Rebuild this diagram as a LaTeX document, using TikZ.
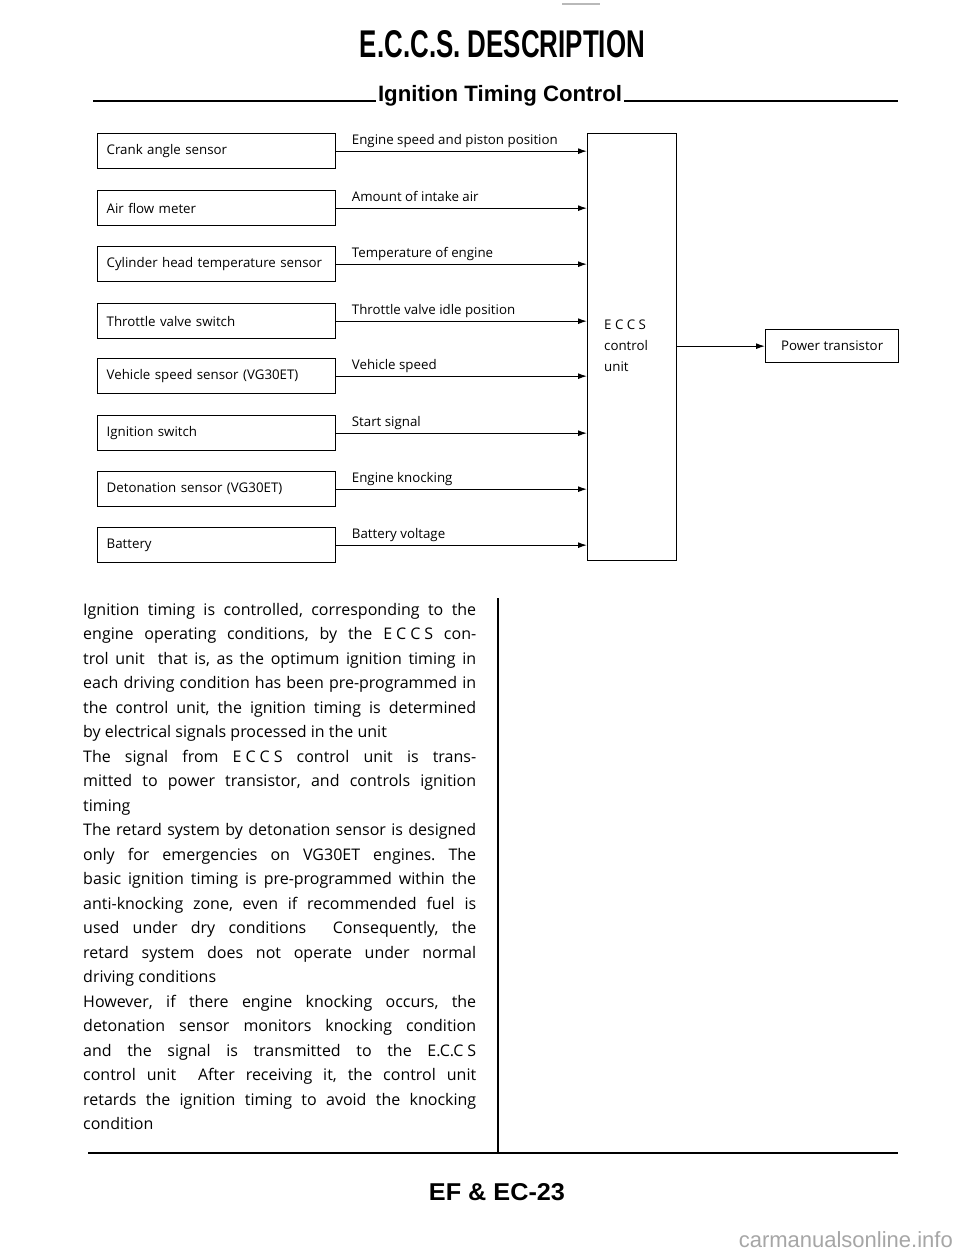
\documentclass[tikz,border=0pt]{standalone}
\usepackage{fontspec}
\setmainfont{Open Sans}
\newfontfamily\headfont{Liberation Sans}
\usetikzlibrary{arrows.meta}
\frenchspacing
\newcommand\J[1]{\makebox[393pt][s]{#1}}
\newcommand\ECCSsp{E\kern4pt C\kern4pt C\kern4pt S}
\begin{document}
\begin{tikzpicture}[x=1pt,y=-1pt,
  boxtxt/.style={font=\fontsize{13.3}{15}\selectfont},
  sensor/.style={draw, line width=1.3pt, anchor=north west, text width=220pt, align=left,
    inner xsep=9pt, inner ysep=0pt, minimum height=35pt, boxtxt},
  unitbox/.style={draw, line width=1.3pt, anchor=north west, inner sep=0pt},
  arr/.style={line width=1.2pt, -{Latex[length=9pt,width=6pt]}},
  sig/.style={anchor=base west, inner sep=0pt, xshift=15pt, yshift=7pt, boxtxt},
  rulel/.style={line width=2.4pt},
  body/.style={anchor=north west, inner sep=0pt, align=left, font=\fontsize{16}{24.5}\selectfont\frenchspacing}]
\useasboundingbox[fill=white] (0,0) rectangle (960,1255);

% top mark
\coordinate (m1) at (562,4); \coordinate (m2) at (600,4);
\draw[gray!55, line width=1.2pt] (m1) -- (m2);

% title
\node[anchor=base, inner sep=0pt] (title) at (502.5,58)
  {\resizebox{285pt}{27pt}{\headfont\bfseries E.C.C.S. DESCRIPTION}};
\node[anchor=base, inner sep=0pt] (sub) at (500,101)
  {\resizebox{244pt}{!}{\headfont\bfseries\fontsize{24}{24}\selectfont Ignition Timing Control}};
\coordinate (hl) at (93,101); \coordinate (hr) at (898,101);
\draw[rulel] (hl) -- ([xshift=-2pt]sub.base west);
\draw[rulel] ([xshift=2pt]sub.base east) -- (hr);

% control unit
\node[unitbox, minimum width=89pt, minimum height=427pt] (eccs) at (587,133) {};
\node[anchor=west, align=left, inner sep=0pt, font=\fontsize{13.3}{21}\selectfont] (ecct) at (604,346)
  {E C C S\\control\\unit};

% power transistor
\node[unitbox, minimum width=133pt, minimum height=33pt, boxtxt] (ptr) at (765,329) {Power transistor};
\draw[arr] (eccs.east |- ptr.west) -- (ptr.west);

% sensors
\foreach \n/\t/\a/\b in {
  1/133/{Crank angle sensor}/{Engine speed and piston position},
  2/190/{Air flow meter}/{Amount of intake air},
  3/246/{Cylinder head temperature sensor}/{Temperature of engine},
  4/303/{Throttle valve switch}/{Throttle valve idle position},
  5/358/{Vehicle speed sensor (VG30ET)}/{Vehicle speed},
  6/415/{Ignition switch}/{Start signal},
  7/471/{Detonation sensor (VG30ET)}/{Engine knocking},
  8/527/{Battery}/{Battery voltage}}{
  \node[sensor] (s\n) at (97,\t) {\a};
  \draw[arr] (s\n.east) -- node[pos=0, sig] (l\n) {\b} (s\n.east -| eccs.west);
}

% body text
\node[body] (txt) at (83,603) {%
\J{Ignition timing is controlled, corresponding to the}\\
\J{engine operating conditions, by the \ECCSsp{} con-}\\
\J{trol unit \ that is, as the optimum ignition timing in}\\
\J{each driving condition has been pre-programmed in}\\
\J{the control unit, the ignition timing is determined}\\
by electrical signals processed in the unit\\
\J{The signal from \ECCSsp{} control unit is trans-}\\
\J{mitted to power transistor, and controls ignition}\\
timing\\
\J{The retard system by detonation sensor is designed}\\
\J{only for emergencies on VG30ET engines. The}\\
\J{basic ignition timing is pre-programmed within the}\\
\J{anti-knocking zone, even if recommended fuel is}\\
\J{used under dry conditions \ Consequently, the}\\
\J{retard system does not operate under normal}\\
driving conditions\\
\J{However, if there engine knocking occurs, the}\\
\J{detonation sensor monitors knocking condition}\\
\J{and the signal is transmitted to the E.C.C\kern4pt S}\\
\J{control unit \ After receiving it, the control unit}\\
\J{retards the ignition timing to avoid the knocking}\\
condition};

% column divider and bottom rule
\coordinate (vt) at (498,598); \coordinate (vb) at (498,1153);
\coordinate (bl) at (88,1153); \coordinate (br) at (898,1153);
\draw[line width=1.6pt] (vt) -- (vb);
\draw[rulel] (bl) -- (br);

% footer
\node[anchor=base, inner sep=0pt] (foot) at (497,1200)
  {\resizebox{136pt}{17pt}{\headfont\bfseries EF \& EC-23}};
\node[anchor=base east, inner sep=0pt, text=gray!70] (wm) at (953,1247)
  {\headfont\fontsize{22}{22}\selectfont carmanualsonline.info};
\end{tikzpicture}
\end{document}
